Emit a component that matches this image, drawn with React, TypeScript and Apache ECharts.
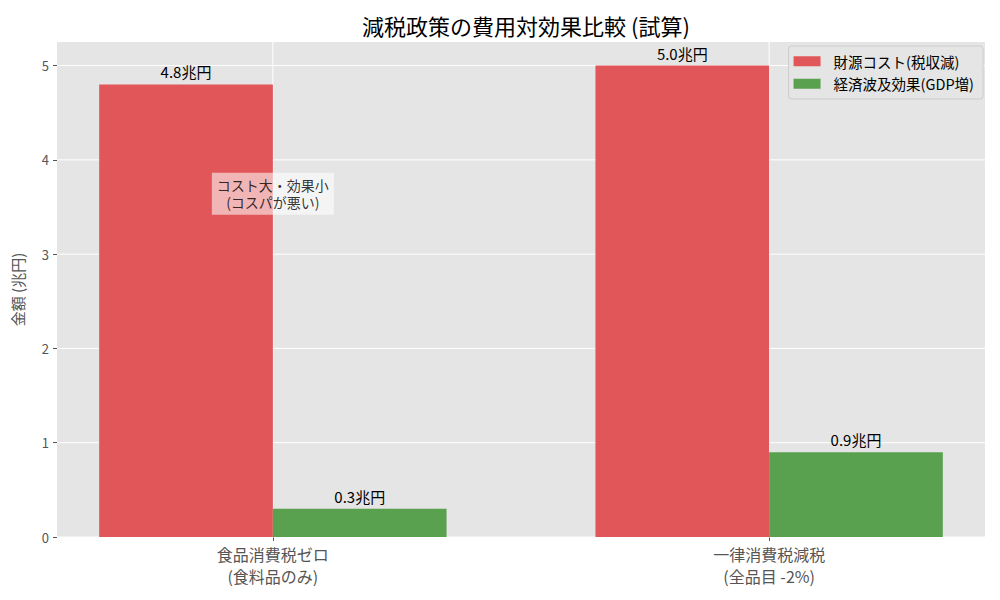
import React, { useEffect, useRef } from "react";
import * as echarts from "echarts";

const categories = ["食品消費税ゼロ\n(食料品のみ)", "一律消費税減税\n(全品目 -2%)"];
const costValues = [4.8, 5.0];
const gdpValues = [0.3, 0.9];
const seriesNames = ["財源コスト(税収減)", "経済波及効果(GDP増)"];
const yTicks = [0, 1, 2, 3, 4, 5];
const annotationText = "コスト大・効果小\n(コスパが悪い)";
const annotationPos = [0, 3.64];

const FONT = "'Noto Sans CJK JP', 'Noto Sans', sans-serif";

export default function App() {
  const ref = useRef<HTMLDivElement>(null);
  useEffect(() => {
    if (!ref.current) return;
    const chart = echarts.init(ref.current, null, { renderer: "svg" });
    const labelCfg = {
      show: true,
      position: "top",
      distance: 5,
      color: "#000",
      fontSize: 15,
      fontFamily: FONT,
      formatter: (p: any) => `${Number(p.value[1]).toFixed(1)}兆円`,
    };
    chart.setOption({
      animation: false,
      textStyle: { fontFamily: FONT },
      title: {
        text: "減税政策の費用対効果比較 (試算)",
        left: 521,
        top: 9,
        textAlign: "center",
        textStyle: { fontSize: 22, fontWeight: "normal", color: "#000", fontFamily: FONT },
      },
      legend: {
        orient: "vertical",
        right: 17,
        top: 46,
        itemWidth: 27,
        itemHeight: 10,
        itemGap: 8,
        padding: [8, 9, 8, 5],
        backgroundColor: "#e5e5e5",
        borderColor: "#cccccc",
        borderWidth: 1,
        borderRadius: 3,
        icon: "rect",
        textStyle: { fontSize: 14.5, color: "#000", fontFamily: FONT, padding: [0, 0, 0, 8] },
        data: seriesNames,
      },
      grid: {
        left: 57,
        right: 15,
        top: 42,
        bottom: 63,
        show: true,
        backgroundColor: "#e5e5e5",
        borderWidth: 0,
      },
      xAxis: {
        type: "value",
        min: -0.435,
        max: 1.435,
        axisLine: { show: false, onZero: false },
        splitLine: { show: false },
        axisTick: { show: true, customValues: [0, 1], length: 4, lineStyle: { color: "#555" } },
        axisLabel: {
          customValues: [0, 1],
          formatter: (v: number) => categories[Math.round(v)] ?? "",
          fontSize: 16,
          lineHeight: 22,
          color: "#555",
          margin: 6,
          fontFamily: FONT,
        },
      },
      yAxis: {
        type: "value",
        min: 0,
        max: 5.25,
        interval: 1,
        name: "金額 (兆円)",
        nameLocation: "middle",
        nameGap: 32,
        nameTextStyle: { fontSize: 15, color: "#555", fontFamily: FONT },
        axisLine: { show: false, onZero: false },
        axisTick: { show: true, customValues: yTicks, length: 4, lineStyle: { color: "#555" } },
        axisLabel: {
          customValues: yTicks,
          fontSize: 13,
          color: "#555",
          margin: 8,
          fontFamily: FONT,
          formatter: (v: number) => String(v),
        },
        splitLine: { show: false },
      },
      series: [
        {
          type: "custom",
          name: "grid",
          z: 1,
          silent: true,
          data: categories.map((_, i) => [i]),
          renderItem: (params: any, api: any) => {
            const x = api.value(0);
            const top = api.coord([x, 5.25]);
            const bottom = api.coord([x, 0]);
            const children: any[] = [
              {
                type: "line",
                shape: { x1: top[0], y1: top[1], x2: bottom[0], y2: bottom[1] },
                style: { stroke: "#ffffff", lineWidth: 1 },
              },
            ];
            if (params.dataIndex === 0) {
              yTicks.forEach((t) => {
                const l = api.coord([-0.435, t]);
                const r = api.coord([1.435, t]);
                children.push({
                  type: "line",
                  shape: { x1: l[0], y1: l[1], x2: r[0], y2: r[1] },
                  style: { stroke: "#ffffff", lineWidth: 1 },
                });
              });
            }
            return { type: "group", children };
          },
        },
        {
          name: seriesNames[0],
          type: "bar",
          z: 2,
          data: costValues.map((v, i) => [i, v]),
          barWidth: "35%",
          barGap: "0%",
          itemStyle: { color: "#e15759" },
          label: labelCfg,
        },
        {
          name: seriesNames[1],
          type: "bar",
          z: 2,
          data: gdpValues.map((v, i) => [i, v]),
          barWidth: "35%",
          barGap: "0%",
          itemStyle: { color: "#59a14f" },
          label: labelCfg,
        },
        {
          type: "scatter",
          name: "annotation",
          z: 10,
          silent: true,
          symbolSize: 0,
          data: [annotationPos],
          label: {
            show: true,
            position: "inside",
            formatter: annotationText,
            fontSize: 14,
            lineHeight: 17,
            color: "#000",
            align: "center",
            fontFamily: FONT,
            backgroundColor: "rgba(255,255,255,0.7)",
            padding: [4, 5],
          },
        },
      ],
    });
    return () => chart.dispose();
  }, []);
  return (
    <div
      ref={ref}
      style={{ position: "fixed", left: 0, top: 0, width: 1000, height: 600, background: "#fff" }}
    />
  );
}
